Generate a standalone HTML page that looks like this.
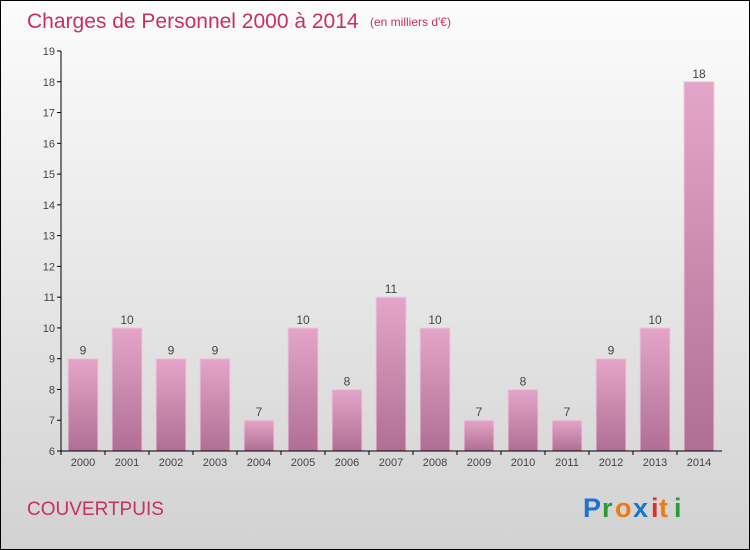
<!DOCTYPE html>
<html><head><meta charset="utf-8"><style>
body{margin:0}
#c{position:relative;width:748px;height:548px;border:1px solid #000;background:linear-gradient(#fcfcfc,#d2d2d2);font-family:"Liberation Sans",sans-serif;overflow:hidden}
</style></head><body>
<div id="c">
<svg id="s" width="748" height="548" style="position:absolute;left:0;top:0">
<defs><linearGradient id="g" x1="0" y1="0" x2="0" y2="1"><stop offset="0" stop-color="#e4a6c8"/><stop offset="1" stop-color="#b06e94"/></linearGradient></defs>
<text x="26" y="27" font-size="21" fill="#c8305f">Charges de Personnel 2000 à 2014</text>
<text x="369" y="25" font-size="12" fill="#c8305f">(en milliers d'€)</text>
<text x="26" y="514" font-size="19" fill="#c8305f">COUVERTPUIS</text>
<g font-size="27" font-weight="bold" font-family="'Liberation Sans',sans-serif">
<text x="582" y="516" fill="#1a73d0">P</text><text x="601" y="516" fill="#2a9a3a">r</text><text x="614" y="516" fill="#f07a10">o</text><text x="632" y="516" fill="#1a73d0">x</text><text x="650" y="516" fill="#e03020">i</text><text x="658" y="516" fill="#f07a10">t</text><text x="673" y="516" fill="#2a9a3a">i</text>
</g>
<g id="plot"></g>
</svg>
</div>
<script>
const years=["2000","2001","2002","2003","2004","2005","2006","2007","2008","2009","2010","2011","2012","2013","2014"];
const values=[9,10,9,9,7,10,8,11,10,7,8,7,9,10,18];
const yTicks=[6,7,8,9,10,11,12,13,14,15,16,17,18,19];
const NS="http://www.w3.org/2000/svg";
const p=document.getElementById('plot');
const y=v=>450-(v-6)*400/13;
const x=i=>82+i*44;
function mk(t,a){const e=document.createElementNS(NS,t);for(const k in a)e.setAttribute(k,a[k]);p.appendChild(e);return e;}
yTicks.forEach(v=>{
 const l=mk('line',{x1:56,x2:60,y1:y(v),y2:y(v),stroke:'#000'});
 
 
 const t=mk('text',{x:54,y:y(v)+4,'text-anchor':'end','font-size':11,fill:'#444'});
 t.textContent=v;
 
 
});
values.forEach((v,i)=>{
 const r=mk('rect',{x:x(i)-15,y:y(v),width:30,height:450-y(v),fill:'url(#g)',stroke:'#f0c8dc','stroke-width':1});
 
 
 const t=mk('text',{x:x(i),y:y(v)-4,'text-anchor':'middle','font-size':12,fill:'#444'});
 t.textContent=v;
 
 
 const k=mk('line',{x1:x(i)-22,x2:x(i)-22,y1:450,y2:454,stroke:'#000'});
 
 
 const yl=mk('text',{x:x(i),y:465,'text-anchor':'middle','font-size':11,fill:'#444'});
 yl.textContent=years[i];
 
 
});
const ya=mk('line',{x1:60,x2:60,y1:50,y2:450,stroke:'#000'});


const xa=mk('line',{x1:60,x2:721,y1:450,y2:450,stroke:'#000'});


</script>
</body></html>
